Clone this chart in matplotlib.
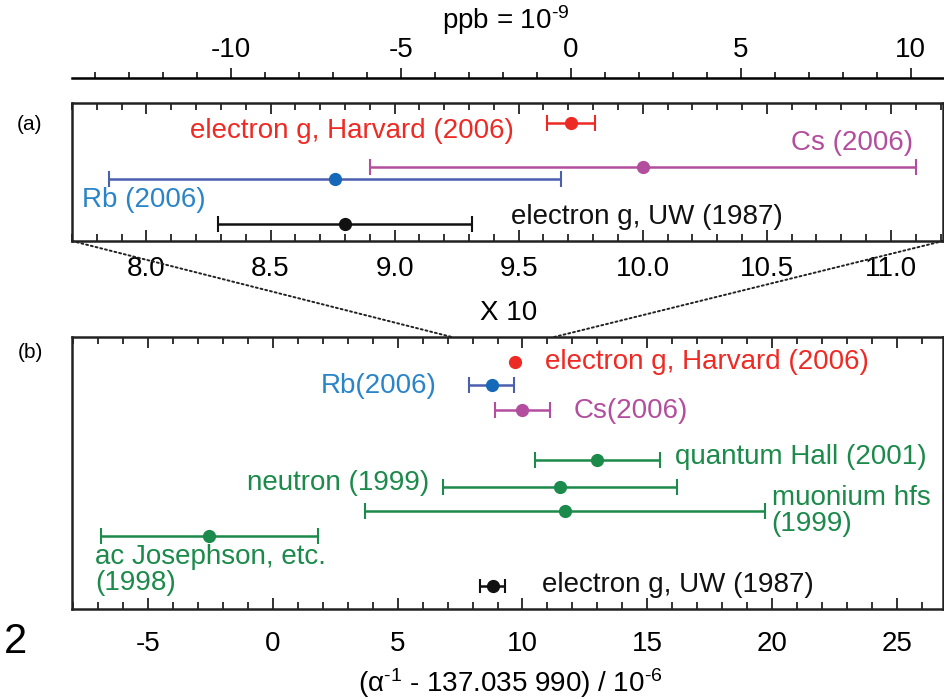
import matplotlib
matplotlib.use("Agg")
import matplotlib.pyplot as plt
from matplotlib.patches import ConnectionPatch
from matplotlib.ticker import MultipleLocator, FixedLocator, FuncFormatter, FormatStrFormatter

plt.rcParams['font.family'] = ['Liberation Sans', 'DejaVu Sans']
plt.rcParams['mathtext.fontset'] = 'custom'
plt.rcParams['mathtext.rm'] = 'Liberation Sans'
plt.rcParams['mathtext.it'] = 'Liberation Sans'

# values in units of 1e-6 : (alpha^-1 - 137.035 990) / 1e-6
# panel (a), zoomed x10
a_names = ['electron g, Harvard (2006)', 'Cs (2006)', 'Rb (2006)', 'electron g, UW (1987)']
a_values = [9.71, 10.0, 8.76, 8.80]
a_errors = [0.096, 1.1, 0.91, 0.51]

# panel (b), full range
b_names = ['electron g, Harvard (2006)', 'Rb(2006)', 'Cs(2006)', 'quantum Hall (2001)',
           'neutron (1999)', 'muonium hfs\n(1999)', 'ac Josephson, etc.\n(1998)',
           'electron g, UW (1987)']
b_values = [9.71, 8.76, 10.0, 13.0, 11.5, 11.7, -2.55, 8.8]
b_errors = [0.096, 0.91, 1.1, 2.5, 4.7, 8.0, 4.35, 0.5]

ppb_ref = 9.71          # alpha^-1 of Harvard 2006 -> 0 ppb
ppb_unit = 0.137036     # 1 ppb of alpha^-1 in units of 1e-6
ppb_ticks = [-10, -5, 0, 5, 10]

RED = '#ee2a24'
MAG = '#b34d9e'
BLUE_BAR = '#4a5fae'
BLUE_DOT = '#1569b8'
BLUE_TXT = '#2a84c8'
GREEN = '#1b8a4a'
BLACK = '#111111'

# layout (row positions as fraction from top, label anchors)
a_rows = [0.145, 0.46, 0.55, 0.88]
a_bar_colors = [RED, MAG, BLUE_BAR, BLACK]
a_dot_colors = [RED, MAG, BLUE_DOT, BLACK]
a_txt_colors = [RED, MAG, BLUE_TXT, BLACK]
a_caps = [6, 6, 6, 6]
a_txt = [(9.48, 0.20, 'right'), (11.09, 0.29, 'right'), (7.74, 0.70, 'left'), (9.47, 0.825, 'left')]

b_rows = [0.091, 0.176, 0.268, 0.452, 0.55, 0.638, 0.732, 0.915]
b_bar_colors = [RED, BLUE_BAR, MAG, GREEN, GREEN, GREEN, GREEN, BLACK]
b_dot_colors = [RED, BLUE_DOT, MAG, GREEN, GREEN, GREEN, GREEN, BLACK]
b_txt_colors = [RED, BLUE_TXT, MAG, GREEN, GREEN, GREEN, GREEN, BLACK]
b_caps = [0, 6, 6, 6, 6, 6, 6, 5]
b_txt = [(10.9, 0.092, 'left'), (6.58, 0.18, 'right'), (12.03, 0.272, 'left'),
         (16.1, 0.441, 'left'), (6.26, 0.537, 'right'), (19.98, 0.64, 'left'),
         (-7.13, 0.858, 'left'), (10.8, 0.912, 'left')]

FS = 20

fig = plt.figure(figsize=(9.45, 6.99), dpi=100)
W, H = 945.0, 699.0


def box(left, top, right, bottom):
    return [left / W, 1 - bottom / H, (right - left) / W, (bottom - top) / H]


def hyphen_int(v, _=None):
    n = int(round(v))
    return '%d' % n if n >= 0 else '-%d' % -n


ax_a = fig.add_axes(box(72, 103.3, 943, 241))
ax_b = fig.add_axes(box(72, 337, 943, 609))


def draw_rows(ax, vals, errs, rows, bar_c, dot_c, caps):
    for v, e, r, bc, dc, cs in zip(vals, errs, rows, bar_c, dot_c, caps):
        ax.errorbar(v, r, xerr=e, fmt='none', ecolor=bc, elinewidth=1.8,
                    capsize=cs, capthick=1.5, zorder=2)
        ax.plot(v, r, 'o', color=dc, markersize=8.5, zorder=3)


def style_axis(ax, xlim, major, minor, pad):
    ax.set_xlim(*xlim)
    ax.set_ylim(1, 0)
    ax.set_yticks([])
    ax.xaxis.set_major_locator(MultipleLocator(major))
    ax.xaxis.set_minor_locator(MultipleLocator(minor))
    ax.tick_params(axis='x', which='both', direction='in', top=True, bottom=True,
                   labelsize=FS, pad=pad, width=1.3, color='#222222')
    ax.tick_params(axis='x', which='major', length=8)
    ax.tick_params(axis='x', which='minor', length=5)
    for s in ax.spines.values():
        s.set_linewidth(1.8)
        s.set_color('#222222')


# panel (a)
draw_rows(ax_a, a_values, a_errors, a_rows, a_bar_colors, a_dot_colors, a_caps)
for name, (x, y, ha), c in zip(a_names, a_txt, a_txt_colors):
    ax_a.text(x, y, name, color=c, fontsize=FS, ha=ha, va='center')
style_axis(ax_a, (7.70, 11.21), 0.5, 0.1, 11)
ax_a.xaxis.set_major_formatter(FormatStrFormatter('%.1f'))

# ppb axis above (a)
sec = ax_a.secondary_xaxis(1 + 25.0 / 137.7,
                           functions=(lambda v: (v - ppb_ref) / ppb_unit,
                                      lambda p: ppb_ref + p * ppb_unit))
sec.xaxis.set_major_locator(FixedLocator(ppb_ticks))
sec.xaxis.set_minor_locator(FixedLocator(list(range(-14, 12))))
sec.tick_params(axis='x', which='both', direction='out', labelsize=FS, pad=4,
                width=1.3, color='#222222')
sec.tick_params(axis='x', which='major', length=7)
sec.tick_params(axis='x', which='minor', length=4)
sec.spines['top'].set_linewidth(1.8)
sec.xaxis.set_major_formatter(FuncFormatter(hyphen_int))

# panel (b)
draw_rows(ax_b, b_values, b_errors, b_rows, b_bar_colors, b_dot_colors, b_caps)
for name, (x, y, ha), c in zip(b_names, b_txt, b_txt_colors):
    ax_b.text(x, y, name, color=c, fontsize=FS, ha=ha, va='center', linespacing=1.0)
style_axis(ax_b, (-8.05, 26.85), 5, 1, 16)
ax_b.xaxis.set_major_formatter(FuncFormatter(hyphen_int))

# dotted zoom lines from (a) corners down to (b)
for xa, xb in [(0, 7.17), (1, 11.27)]:
    con = ConnectionPatch(xyA=(xa, 0), coordsA=ax_a.transAxes,
                          xyB=(xb, 1), coordsB=ax_b.get_xaxis_transform(),
                          linestyle=(0, (1, 1.5)), color='#222222', linewidth=1.4)
    fig.add_artist(con)

fig.text(509 / W, 1 - 313 / H, 'X 10', fontsize=FS, ha='center', va='center')
fig.text(506 / W, 1 - 20 / H, 'ppb = 10$^{\\text{-9}}$', fontsize=FS, ha='center', va='center')
fig.text(30 / W, 1 - 125 / H, '(a)', fontsize=15, ha='center', va='center')
fig.text(30 / W, 1 - 352 / H, '(b)', fontsize=15, ha='center', va='center')
fig.text(16 / W, 1 - 642 / H, '2', fontsize=30, ha='center', va='center')
fig.text(510 / W, 1 - 683 / H, '(α$^{\\text{-1}}$ - 137.035 990) / 10$^{\\text{-6}}$',
         fontsize=FS, ha='center', va='center')

fig.savefig('out.png', dpi=100)
